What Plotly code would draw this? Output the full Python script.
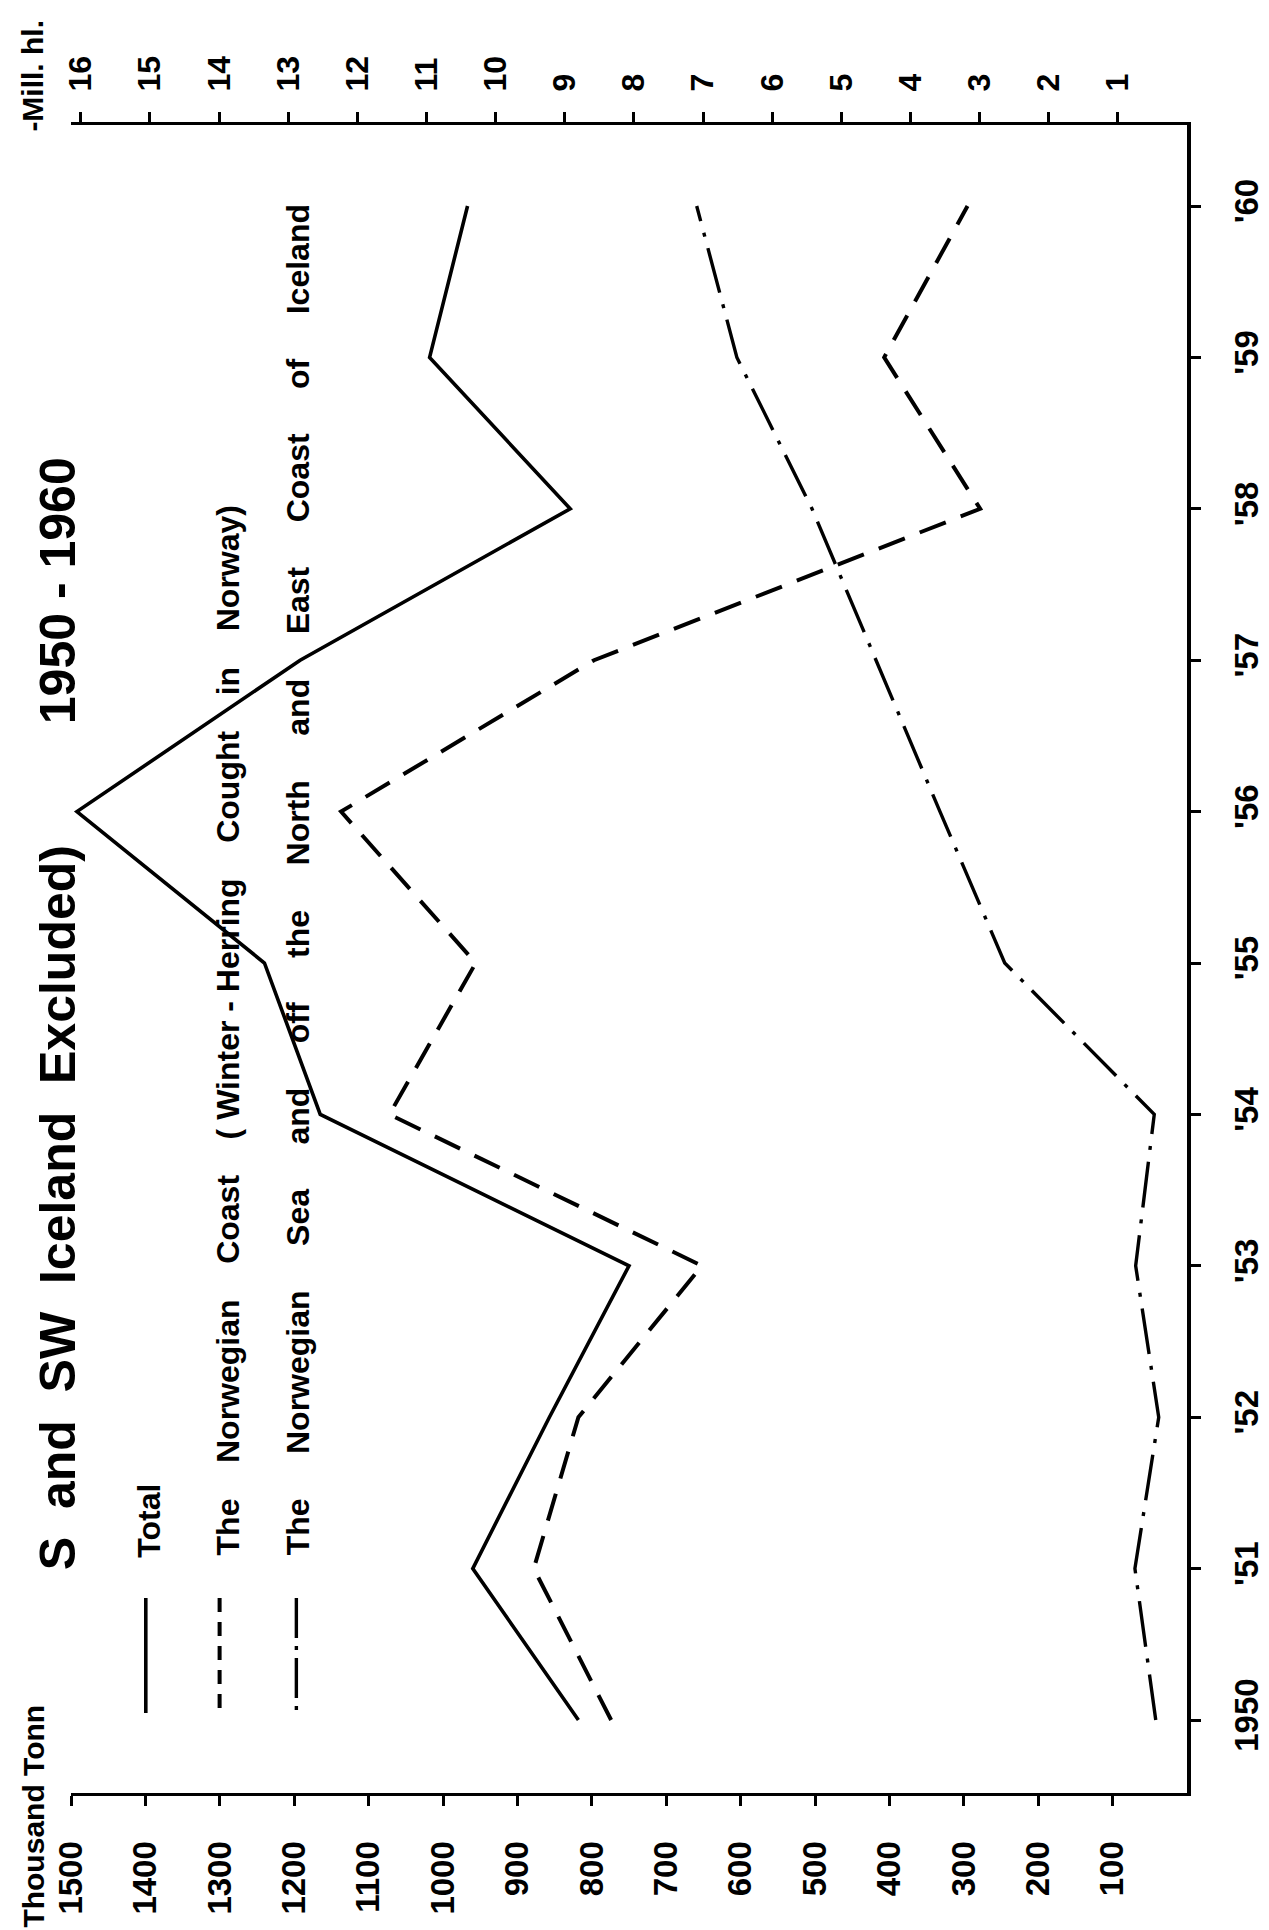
import plotly.graph_objects as go

# ---- data ----
years = [1950, 1951, 1952, 1953, 1954, 1955, 1956, 1957, 1958, 1959, 1960]
year_labels = ["1950", "'51", "'52", "'53", "'54", "'55", "'56", "'57", "'58", "'59", "'60"]
total = [818, 960, 857, 750, 1165, 1240, 1492, 1192, 829, 1018, 967]
norwegian_coast = [774, 878, 818, 652, 1072, 956, 1137, 797, 278, 407, 295]
norwegian_sea = [42, 70, 38, 69, 44, 245, 332, 418, 504, 605, 659]
tonn_ticks = [1500, 1400, 1300, 1200, 1100, 1000, 900, 800, 700, 600, 500, 400, 300, 200, 100]
hl_ticks = list(range(1, 17))

# ---- layout geometry (pixels) ----
W, H = 1269, 1930
L, R, T, B = 63, 1197, 117, 1785


def px(xp):
    return (xp - L) / (R - L)


def py(yp):
    return (B - yp) / (B - T)


FONT = "Liberation Sans, Arial, sans-serif"
BLACK = "black"

fig = go.Figure()

fig.add_trace(go.Scatter(x=total, y=years, mode="lines",
                         line=dict(color=BLACK, width=3.6), name="Total"))
fig.add_trace(go.Scatter(x=norwegian_coast, y=years, mode="lines",
                         line=dict(color=BLACK, width=4, dash="28px,16px"),
                         name="The Norwegian Coast"))
fig.add_trace(go.Scatter(x=norwegian_sea, y=years, mode="lines",
                         line=dict(color=BLACK, width=3.4, dash="46px,12px,4px,12px"),
                         name="The Norwegian Sea"))
# invisible trace to carry the Mill. hl. axis
fig.add_trace(go.Scatter(x=[0], y=[1955], xaxis="x2", mode="markers",
                         marker=dict(opacity=0), hoverinfo="skip", showlegend=False))

fig.update_layout(
    width=W, height=H,
    margin=dict(l=L, r=W - R, t=T, b=H - B),
    plot_bgcolor="white", paper_bgcolor="white",
    showlegend=False,
    font=dict(family=FONT, color=BLACK),
    xaxis=dict(range=[1500, 0], tickvals=tonn_ticks, ticktext=[str(v) for v in tonn_ticks],
               ticks="outside", ticklen=10, tickwidth=3, tickcolor=BLACK,
               showline=True, linewidth=3, linecolor=BLACK, showgrid=False, zeroline=False,
               tickangle=-90, ticklabelstandoff=22,
               tickfont=dict(size=33, weight="bold", family=FONT)),
    xaxis2=dict(range=[(R - L) / 70.25, 0], overlaying="x", side="top", anchor="y",
                tickvals=hl_ticks, ticktext=[str(v) for v in hl_ticks],
                ticks="outside", ticklen=10, tickwidth=3, tickcolor=BLACK,
                showline=True, linewidth=3, linecolor=BLACK, showgrid=False, zeroline=False,
                tickangle=-90, ticklabelstandoff=14,
                tickfont=dict(size=32, weight="bold", family=FONT)),
    yaxis=dict(range=[1950 - (B - 1712) / 151.4, 1960 + (198 - T) / 151.4],
               side="right", tickvals=years, ticktext=year_labels,
               ticks="outside", ticklen=10, tickwidth=3, tickcolor=BLACK,
               showline=True, linewidth=3.5, linecolor=BLACK, showgrid=False, zeroline=False,
               tickangle=-90, ticklabelstandoff=18,
               tickfont=dict(size=33, weight="bold", family=FONT)),
)

NB = "\u00a0"


def spaced(words, n):
    return (NB * n).join(words)


row2 = spaced(["The", "Norwegian", "Coast", "(" + NB + "Winter" + NB + "-" + NB + "Herring",
               "Cought", "in", "Norway)"], 4)
row3 = spaced(["The", "Norwegian", "Sea", "and", "off", "the", "North", "and", "East",
               "Coast", "of", "Iceland"], 5)

annotations = [
    dict(text="-Mill. hl.", x=px(24), y=py(68), size=30),
    dict(text="Thousand Tonn", x=px(25), y=py(1808), size=30),
    dict(text=spaced(["S", "and", "SW", "Iceland", "Excluded)"], 2), x=px(50), y=py(1200), size=50),
    dict(text=spaced(["1950", "-", "1960"], 1), x=px(50), y=py(583), size=50),
    dict(text="Total", x=px(142), y=py(1513), size=32),
    dict(text=row2, x=px(223), y=py(1022), size=32),
    dict(text=row3, x=px(294), y=py(872), size=32),
]
for a in annotations:
    fig.add_annotation(text=a["text"], x=a["x"], y=a["y"], xref="paper", yref="paper",
                       textangle=-90, showarrow=False, xanchor="center", yanchor="middle",
                       font=dict(size=a["size"], weight="bold", family=FONT, color=BLACK))

# legend key samples
samples = [(139, "solid", 3.6), (214, "14px,10px", 4), (292, "40px,8px,4px,8px", 3.4)]
for xs, dash, w in samples:
    fig.add_shape(type="line", xref="paper", yref="paper",
                  x0=px(xs), x1=px(xs), y0=py(1590), y1=py(1705),
                  line=dict(color=BLACK, width=w, dash=dash))

fig.write_html("out.html")
